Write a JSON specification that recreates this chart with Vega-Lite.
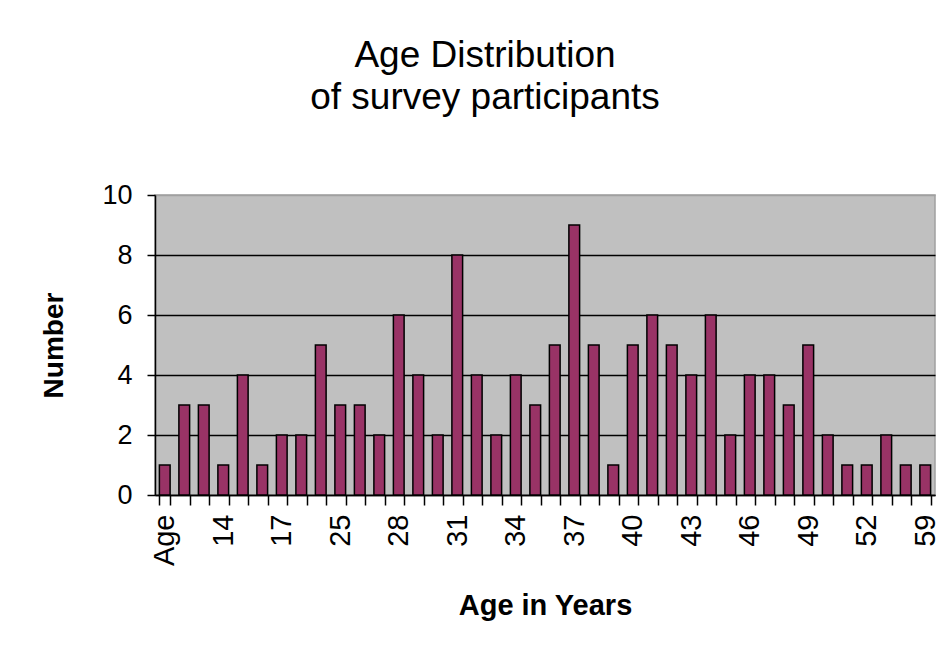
{
  "$schema": "https://vega.github.io/schema/vega-lite/v6.json",
  "autosize": {"type": "none"},
  "width": 780,
  "height": 300,
  "padding": {"left": 155, "top": 195, "right": 8, "bottom": 154},
  "background": "white",
  "title": {
    "text": ["Age Distribution", "of survey participants"],
    "font": "Liberation Sans",
    "fontSize": 37,
    "fontWeight": "normal",
    "color": "black",
    "lineHeight": 42,
    "anchor": "middle",
    "dx": -60,
    "offset": 64
  },
  "data": {
    "values": [
      {"age": "Age", "count": 1},
      {"age": "12", "count": 3},
      {"age": "13", "count": 3},
      {"age": "14", "count": 1},
      {"age": "15", "count": 4},
      {"age": "16", "count": 1},
      {"age": "17", "count": 2},
      {"age": "18", "count": 2},
      {"age": "20", "count": 5},
      {"age": "25", "count": 3},
      {"age": "26", "count": 3},
      {"age": "27", "count": 2},
      {"age": "28", "count": 6},
      {"age": "29", "count": 4},
      {"age": "30", "count": 2},
      {"age": "31", "count": 8},
      {"age": "32", "count": 4},
      {"age": "33", "count": 2},
      {"age": "34", "count": 4},
      {"age": "35", "count": 3},
      {"age": "36", "count": 5},
      {"age": "37", "count": 9},
      {"age": "38", "count": 5},
      {"age": "39", "count": 1},
      {"age": "40", "count": 5},
      {"age": "41", "count": 6},
      {"age": "42", "count": 5},
      {"age": "43", "count": 4},
      {"age": "44", "count": 6},
      {"age": "45", "count": 2},
      {"age": "46", "count": 4},
      {"age": "47", "count": 4},
      {"age": "48", "count": 3},
      {"age": "49", "count": 5},
      {"age": "50", "count": 2},
      {"age": "51", "count": 1},
      {"age": "52", "count": 1},
      {"age": "55", "count": 2},
      {"age": "57", "count": 1},
      {"age": "59", "count": 1}
    ]
  },
  "mark": {"type": "bar", "fill": "#993366", "stroke": "black", "strokeWidth": 1.5},
  "encoding": {
    "x": {
      "field": "age",
      "type": "ordinal",
      "sort": null,
      "scale": {"paddingInner": 0.45, "paddingOuter": 0.225},
      "axis": {
        "title": "Age in Years",
        "labelExpr": "indexof(['Age','14','17','25','28','31','34','37','40','43','46','49','52','59'], datum.value) >= 0 ? datum.label : ''",
        "tickBand": "extent",
        "labelAngle": -90,
        "labelAlign": "right",
        "labelBaseline": "middle",
        "labelFont": "Liberation Sans",
        "labelFontSize": 29,
        "labelColor": "black",
        "labelPadding": 9,
        "labelOverlap": false,
        "tickSize": 10,
        "tickColor": "black",
        "tickWidth": 1.5,
        "domainColor": "black",
        "domainWidth": 1.5,
        "titleFont": "Liberation Sans",
        "titleFontSize": 29,
        "titleFontWeight": "bold",
        "titleColor": "black",
        "titlePadding": 26,
        "grid": false
      }
    },
    "y": {
      "field": "count",
      "type": "quantitative",
      "scale": {"domain": [0, 10], "nice": false},
      "axis": {
        "title": "Number",
        "values": [0, 2, 4, 6, 8, 10],
        "labelFont": "Liberation Sans",
        "labelFontSize": 27,
        "labelColor": "black",
        "labelPadding": 15,
        "tickSize": 8,
        "tickColor": "black",
        "tickWidth": 1.5,
        "domainColor": "black",
        "domainWidth": 1.5,
        "grid": true,
        "gridColor": {"condition": {"test": "datum.value == 10", "value": "#a0a0a0"}, "value": "black"},
        "gridWidth": 1.5,
        "titleFont": "Liberation Sans",
        "titleFontSize": 28,
        "titleFontWeight": "bold",
        "titleColor": "black",
        "titlePadding": 33
      }
    }
  },
  "config": {
    "view": {"fill": "#c0c0c0", "stroke": "#a0a0a0", "strokeWidth": 1.5}
  }
}
